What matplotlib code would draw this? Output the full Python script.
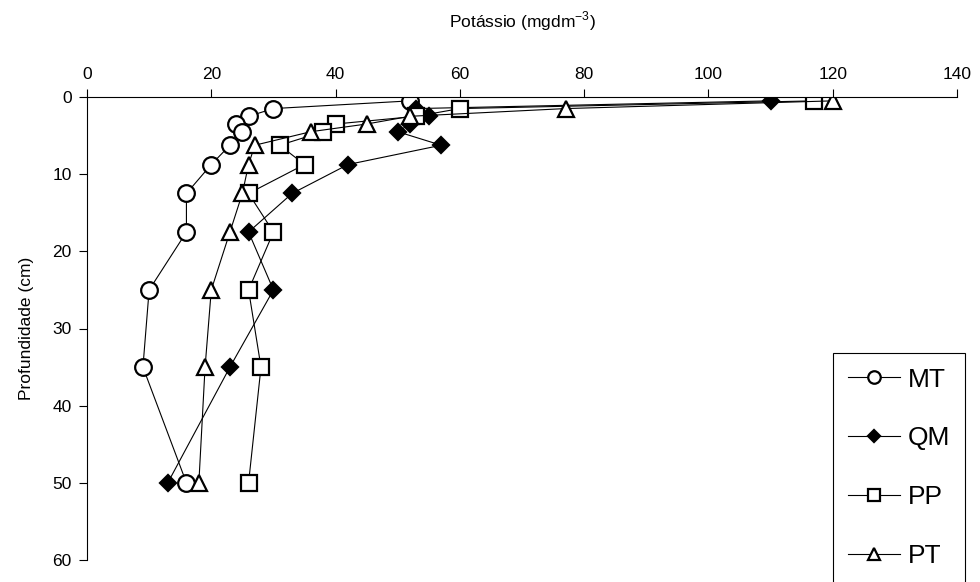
import matplotlib.pyplot as plt

plt.rcParams['font.family'] = ['Liberation Sans', 'DejaVu Sans']
plt.rcParams['mathtext.fontset'] = 'custom'
plt.rcParams['mathtext.rm'] = 'Liberation Sans'

# Depth (cm) of each sampling layer
depth = [0.5, 1.5, 2.5, 3.5, 4.5, 6.25, 8.75, 12.5, 17.5, 25, 35, 50]

# Potassium (mg dm-3) per treatment
mt = [52, 30, 26, 24, 25, 23, 20, 16, 16, 10, 9, 16]
qm = [110, 53, 55, 52, 50, 57, 42, 33, 26, 30, 23, 13]
pp = [117, 60, 53, 40, 38, 31, 35, 26, 30, 26, 28, 26]
pt = [120, 77, 52, 45, 36, 27, 26, 25, 23, 20, 19, 18]

x_ticks = [0, 20, 40, 60, 80, 100, 120, 140]
y_ticks = [0, 10, 20, 30, 40, 50, 60]

fig = plt.figure(figsize=(9.8, 5.82), dpi=100)
ax = fig.add_axes([87 / 980, 1 - 560 / 582, 870 / 980, 463 / 582])

series = [
    ('MT', mt, 'o', 'white', 12),
    ('QM', qm, 'D', 'black', 8),
    ('PP', pp, 's', 'white', 11),
    ('PT', pt, '^', 'white', 12),
]
for name, vals, mk, fc, ms in series:
    ax.plot(vals, depth, color='black', linewidth=0.8, marker=mk, markersize=ms,
            markerfacecolor=fc, markeredgecolor='black', markeredgewidth=1.6, label=name)

ax.set_xlim(0, 140)
ax.set_ylim(60, 0)
ax.set_xticks(x_ticks)
ax.set_yticks(y_ticks)
ax.xaxis.tick_top()
ax.xaxis.set_label_position('top')
ax.spines['right'].set_visible(False)
ax.spines['bottom'].set_visible(False)
ax.tick_params(axis='both', labelsize=12.5, length=6, width=0.8, direction='out', pad=5)
ax.set_xlabel('Potássio (mgdm$^{\\mathregular{-3}}$)', fontsize=12.5, labelpad=28)
ax.set_ylabel('Profundidade (cm)', fontsize=12.5, labelpad=13)

leg = fig.legend(loc='upper left', bbox_to_anchor=(833 / 980, 1 - 353 / 582), borderaxespad=0,
                 fontsize=19, frameon=True, fancybox=False, edgecolor='black', framealpha=1,
                 handlelength=2.0, handletextpad=0.3, labelspacing=1.32, borderpad=0.55,
                 markerscale=0.75)
leg.get_frame().set_linewidth(0.8)

fig.savefig('out.png', dpi=100)
